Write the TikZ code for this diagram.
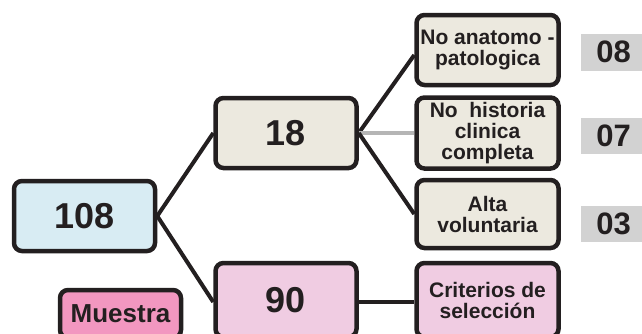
\documentclass[tikz,border=0pt]{standalone}
\usepackage{fontspec}
\setmainfont{Liberation Sans}
\definecolor{ink}{HTML}{231F20}
\definecolor{celeste}{HTML}{D8ECF3}
\definecolor{crema}{HTML}{ECE9DF}
\definecolor{rosa}{HTML}{F0CCE2}
\definecolor{fucsia}{HTML}{F297C0}
\definecolor{gris}{HTML}{D2D2D2}
\definecolor{grislinea}{HTML}{B5B5B5}
\begin{document}
\begin{tikzpicture}[x=1pt,y=-1pt,
    caja/.style={draw=ink, line width=4.5pt, rounded corners=8pt, text=ink,
        font=\bfseries\fontsize{21}{21}\selectfont, align=center, inner sep=0pt},
    grande/.style={caja, font=\bfseries\fontsize{36}{38}\selectfont,
        minimum width=141pt, minimum height=70pt},
    chica/.style={caja, minimum width=142pt, minimum height=70pt},
    cifra/.style={fill=gris, text=ink, inner sep=0pt, minimum width=65pt,
        minimum height=37pt, font=\bfseries\fontsize{31}{33}\selectfont},
    rama/.style={draw=ink, line width=4pt}]
    \clip (0,0) rectangle (642,333);
    \useasboundingbox (0,0) rectangle (642,333);

    \node[grande, fill=celeste] (n108) at (84.5,216) {108};
    \node[grande, fill=crema] (n18) at (286,133) {18};
    \node[grande, fill=rosa, minimum height=74pt] (n90) at (286,300) {90};
    \node[caja, fill=fucsia, minimum width=121pt, minimum height=48pt,
        font=\bfseries\fontsize{26}{27}\selectfont] (muestra) at (120.5,314) {Muestra};

    \node[chica, fill=crema] (anat) at (487.5,50) {No anatomo -\\patologica};
    \node[chica, fill=crema, minimum height=71pt] (hist) at (487.5,133) {No\ \ historia\\clinica\\completa};
    \node[chica, fill=crema, minimum height=68pt] (alta) at (487.5,214) {Alta\\voluntaria};
    \node[chica, fill=rosa, minimum height=74pt] (crit) at (487.5,300) {Criterios de\\selección};

    \node[cifra] (c08) at (613.5,52) {08};
    \node[cifra, minimum height=36pt] (c07) at (613.5,136) {07};
    \node[cifra, minimum height=36pt] (c03) at (613.5,224) {03};

    \draw[rama] (n108.east) -- (n18.west);
    \draw[rama] (n108.east) -- ([yshift=-2pt]n90.west);
    \draw[rama] (n18.east) -- ([yshift=-5pt]anat.west);
    \draw[draw=grislinea, line width=4pt] (n18.east) -- (hist.west);
    \draw[rama] (n18.east) -- (alta.west);
    \draw[rama] ([yshift=-2pt]n90.east) -- ([yshift=-2pt]crit.west);
\end{tikzpicture}
\end{document}
